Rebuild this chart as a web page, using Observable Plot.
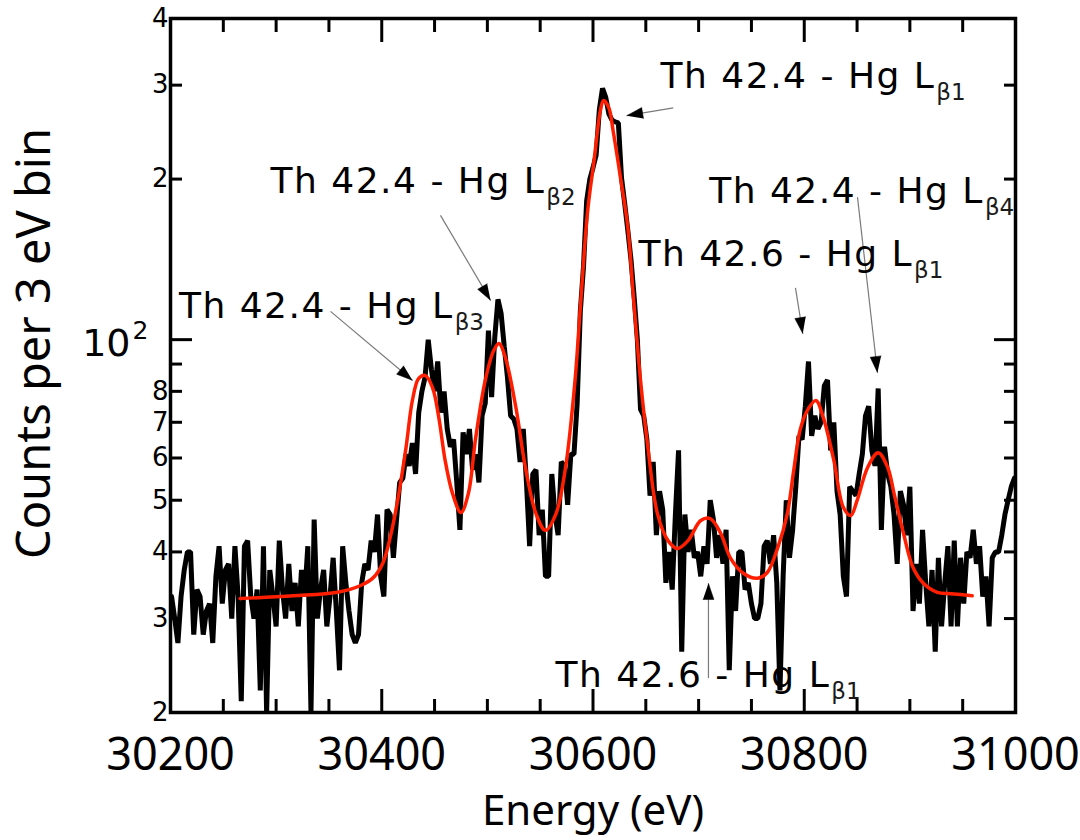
<!DOCTYPE html>
<html><head><meta charset="utf-8">
<script src="https://cdn.jsdelivr.net/npm/d3@7"></script>
<script src="https://cdn.jsdelivr.net/npm/@observablehq/plot@0.6"></script>
<style>
body{margin:0;background:#fff;} #chart{width:1080px;height:840px;}
g[aria-description="annotation"] text, g.annotation text { letter-spacing: 1.5px; }
</style>
</head><body><div id="chart"></div>
<script>
// ---- data ----
const binStart = 30201, binStep = 3; // 3 eV bins
const counts = [
33,30,27,33,37,40,40,28,34,33,
28,31,32,27,36,41,32,37,38,30,
41,33,21,41,42,33,30,34,22,41,
20,37,33,29,42,34,30,38,31,35,
29,37,33,41,20,46,30,34,37,29,
33,39,31,24,41,35,31,28,27,28,
35,38,37,42,40,47,36,33,48,47,
39,46,54,55,61,58,64,56,73,80,
85,100,88,80,91,73,80,68,63,65,
54,44,67,61,68,57,61,54,72,76,
104,78,101,119,112,97,85,72,71,68,
59,68,54,41,56,57,43,48,36,36,
56,47,43,59,58,49,61,61,76,113,
137,182,200,210,222,270,296,285,265,258,
256,255,201,180,160,141,120,100,74,72,
65,51,59,43,52,48,35,40,34,47,
62,26,47,40,44,39,40,36,41,38,
50,46,39,43,38,44,24,36,31,40,
40,34,35,32,30,30,32,41,42,38,
43,35,22,36,50,39,44,53,66,65,
75,91,66,72,68,70,82,84,62,70,
52,47,36,33,53,52,51,56,61,72,
75,62,58,81,44,63,56,53,47,38,
52,49,43,53,31,38,32,44,35,29,
37,26,39,29,35,41,29,42,29,39,
32,40,39,44,38,41,33,36,29,39,
40,40,43,47,50,53,55
];
const fitEnergy = [30266,30316,30358,30380,30392,30401,30408,30415,30423,30429,30435,30441,30448,30454,30460,30467,30475,30482,30489,30498,30506,30511,30517,30527,30536,30546,30555,30565,30574,30583,30588,30595,30601,30607,30610,30615,30619,30626,30633,30638,30645,30652,30661,30671,30680,30690,30702,30711,30721,30730,30743,30756,30765,30775,30784,30790,30796,30803,30811,30818,30828,30837,30844,30850,30860,30870,30879,30885,30894,30903,30913,30926,30939,30959];
const fitCounts = [32.7,33.1,33.6,34.6,35.8,38.1,42.6,49.9,62.8,76.9,84.6,85.7,81.4,71.5,59.4,51.5,47.4,51.5,65.6,83.9,95.4,98.4,92.6,74.6,57.6,47.2,43.9,47.2,57.6,83.9,114.9,174.7,216.6,269,280.8,272,246.7,201.4,162.3,122,83.9,62.8,47.2,42.0,40.6,42.0,45.8,46.2,43.3,39.0,36.4,35.7,36.6,40.8,47.2,56.8,67.6,73.7,76.9,71.5,59.4,48.5,46.8,49.9,57.6,61.4,57.6,51.5,43.3,37.4,34.9,33.6,33.4,33.1];

const xDomain = [30200, 31000];
const yDomain = [20, 400];
const xTicksMajor = [30200, 30400, 30600, 30800, 31000];
const xTicksMinor = [30250, 30300, 30350, 30450, 30500, 30550, 30650, 30700, 30750, 30850, 30900, 30950];
const yTicksMajor = [100];
const yTicksMinor = [30, 40, 50, 60, 70, 80, 90, 200, 300];
const yLabelValues = [20, 30, 40, 50, 60, 70, 80, 200, 300, 400];
const yLabelText = ["2", "3", "4", "5", "6", "7", "8", "2", "3", "4"];
const yDecadeValues = [100];
const yDecadeBase = ["10"];
const yDecadeExp = ["2"];

// annotations
const labelMain = ["Th 42.4 - Hg L", "Th 42.4 - Hg L", "Th 42.4 - Hg L", "Th 42.4 - Hg L", "Th 42.6 - Hg L", "Th 42.6 - Hg L"];
const labelSub = ["β1", "β2", "β3", "β4", "β1", "β1"];
const labelE = [30664, 30294.7, 30208, 30710, 30643, 30564.5];
const labelV = [296, 188, 109.6, 180, 137.7, 22.3];
const arrowFromE = [30676, 30455.6, 30351.5, 30850.4, 30791.7, 30709.3];
const arrowFromV = [272, 171, 113, 185, 125, 23.2];
const arrowToE = [30632, 30503, 30429, 30869.3, 30798.6, 30709.3];
const arrowToV = [263, 118.5, 83.9, 86.8, 102.7, 34.9];

// ---- layout ----
const W = 1080, H = 840, ML = 170, MR = 65, MT = 18, MB = 128;
const FONT = "DejaVu Sans";
const AXFONT = "Noto Sans";
const ANN = 36, SUB = 23, LS = 1.5;

const energy = d3.range(counts.length).map(i => binStart + i * binStep);
const obs = counts.map((c, i) => ({e: energy[i], c}));
const fit = fitEnergy.map((e, i) => ({e, c: fitCounts[i]}));
const labels = labelMain.map((t, i) => ({t, s: labelSub[i], e: labelE[i], v: labelV[i]}));
const arrows = arrowFromE.map((e, i) => ({e1: e, v1: arrowFromV[i], e2: arrowToE[i], v2: arrowToV[i]}));

// standalone scales matching the plot, for arrowhead geometry
const xs = Plot.scale({x: {domain: xDomain, range: [ML, W - MR]}});
const ys = Plot.scale({y: {type: "log", domain: yDomain, range: [H - MB, MT]}});
const heads = arrows.flatMap((a, k) => {
  const x1 = xs.apply(a.e1), y1 = ys.apply(a.v1), x2 = xs.apply(a.e2), y2 = ys.apply(a.v2);
  const len = Math.hypot(x2 - x1, y2 - y1), ux = (x2 - x1) / len, uy = (y2 - y1) / len;
  const L = 16, w = 5.5, bx = x2 - ux * L, by = y2 - uy * L;
  return [[x2, y2], [bx - uy * w, by + ux * w], [bx + uy * w, by - ux * w]]
    .map(([px, py]) => ({k, e: xs.invert(px), v: ys.invert(py)}));
});

const ctx = document.createElement("canvas").getContext("2d");
ctx.font = `${ANN}px "${FONT}"`;
const mainText = "Th 42.4 - Hg L";
const mainW0 = ctx.measureText(mainText).width;

const blank = () => "";
const plot = Plot.plot({
  width: W, height: H,
  marginLeft: ML, marginRight: MR, marginTop: MT, marginBottom: MB,
  style: {fontFamily: FONT, background: "white", color: "black"},
  x: {domain: xDomain, label: null},
  y: {type: "log", domain: yDomain, label: null},
  marks: [
    Plot.line(obs, {x: "e", y: "c", stroke: "black", strokeWidth: 5, strokeLinejoin: "miter", clip: true}),
    Plot.line(fit, {x: "e", y: "c", stroke: "#ff1e00", strokeWidth: 3.5, curve: "catmull-rom", clip: true}),
    // ticks inside the frame on all four sides
    Plot.axisX(xTicksMajor, {anchor: "bottom", tickSize: 23, dy: -23, tickFormat: blank, strokeWidth: 3, label: null}),
    Plot.axisX(xTicksMinor, {anchor: "bottom", tickSize: 13, dy: -13, tickFormat: blank, strokeWidth: 3, label: null}),
    Plot.axisX(xTicksMajor, {anchor: "top", tickSize: 23, dy: 23, tickFormat: blank, strokeWidth: 3, label: null}),
    Plot.axisX(xTicksMinor, {anchor: "top", tickSize: 13, dy: 13, tickFormat: blank, strokeWidth: 3, label: null}),
    Plot.axisY(yTicksMajor, {anchor: "left", tickSize: 22, dx: 22, tickFormat: blank, strokeWidth: 3, label: null}),
    Plot.axisY(yTicksMinor, {anchor: "left", tickSize: 12, dx: 12, tickFormat: blank, strokeWidth: 3, label: null}),
    Plot.axisY(yTicksMajor, {anchor: "right", tickSize: 22, dx: -22, tickFormat: blank, strokeWidth: 3, label: null}),
    Plot.axisY(yTicksMinor, {anchor: "right", tickSize: 12, dx: -12, tickFormat: blank, strokeWidth: 3, label: null}),
    Plot.frame({stroke: "black", strokeWidth: 3.5}),
    // tick labels
    Plot.text(xTicksMajor, {x: d => d, frameAnchor: "bottom", textAnchor: "middle", dy: 43, lineAnchor: "middle", text: d => String(d), fontSize: 45, fontFamily: AXFONT}),
    Plot.text(yLabelValues, {y: d => d, frameAnchor: "left", textAnchor: "end", dx: -2, lineAnchor: "middle", text: (d, i) => yLabelText[i], fontSize: 26}),
    Plot.text(yDecadeValues, {y: d => d, frameAnchor: "left", textAnchor: "end", dx: -40, dy: 4, lineAnchor: "middle", text: (d, i) => yDecadeBase[i], fontSize: 38}),
    Plot.text(yDecadeValues, {y: d => d, frameAnchor: "left", textAnchor: "start", dx: -38, dy: -9, lineAnchor: "middle", text: (d, i) => yDecadeExp[i], fontSize: 25}),
    // axis titles
    Plot.text(["Energy (eV)"], {frameAnchor: "bottom", textAnchor: "middle", dy: 99, lineAnchor: "middle", text: d => d, fontSize: 42, fontFamily: AXFONT}),
    Plot.text(["Counts per 3 eV bin"], {frameAnchor: "left", textAnchor: "middle", dx: -136, dy: -22, rotate: -90, lineAnchor: "middle", text: d => d, fontSize: 47, fontFamily: AXFONT}),
    // annotations
    Plot.link(arrows, {x1: "e1", y1: "v1", x2: "e2", y2: "v2", stroke: "#7a7a7a", strokeWidth: 1.2}),
    Plot.line(heads, {x: "e", y: "v", z: "k", fill: "black", stroke: "black", strokeWidth: 0.5}),
    Plot.text(labels, {x: "e", y: "v", text: "t", textAnchor: "start", lineAnchor: "bottom", fontSize: ANN, ariaDescription: "annotation", className: "annotation"}),
    Plot.text(labels, {x: "e", y: "v", text: "s", textAnchor: "start", lineAnchor: "bottom", fontSize: SUB, dy: 12, fill: "#1a1a1a",
      dx: mainW0 + LS * mainText.length + 1})
  ]
});
document.getElementById("chart").append(plot);
</script>
</body></html>
